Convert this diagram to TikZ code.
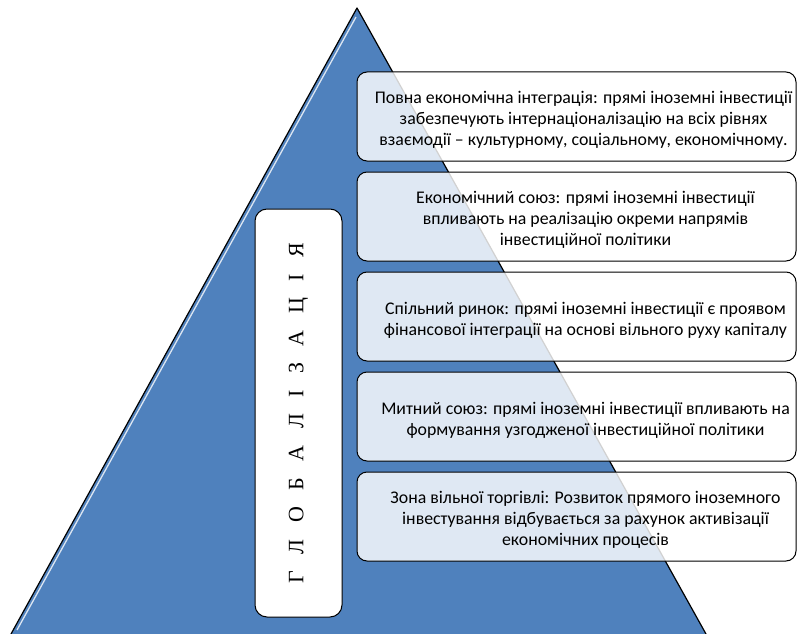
\documentclass[tikz,border=0pt]{standalone}
\usepackage{fontspec}
\setmainfont{Carlito}
\newfontfamily\titlefont{Liberation Serif}
\definecolor{pyrblue}{HTML}{4F81BD}

\tikzset{
  level box/.style={draw, line width=1pt, rounded corners=10pt, fill=white, fill opacity=0.82,
    minimum width=439pt, minimum height=89pt},
  level text/.style={align=center, font=\fontsize{17.8}{21}\selectfont},
  title box/.style={draw, line width=1pt, rounded corners=12pt, fill=white, rotate=90,
    minimum width=408pt, minimum height=87pt, font=\titlefont\fontsize{22}{22}\selectfont}
}

\begin{document}
\begin{tikzpicture}[x=1pt, y=-1pt]
  \useasboundingbox (0,0) rectangle (798,634);

  % Pyramid
  \coordinate (apex) at (357,8);
  \coordinate (baseL) at (11,634);
  \coordinate (baseR) at (706,634);
  \fill[pyrblue] (apex) -- (baseL) -- (baseR) -- cycle;
  \draw[white, line width=1.3pt, opacity=0.8] (356,17) -- (17,630);
  \draw[line width=1.2pt, line join=round] (baseL) -- (apex) -- (baseR);

  % Vertical title
  \node[title box] (glob) at (298.5,413) {\spaceskip=16.5pt Г Л О Б А Л І З А Ц І Я};

  % Level boxes
  \foreach \i in {1,...,5} {
    \node[level box] (lvl\i) at (576.5, 16.5+100*\i) {};
  }

  % Level texts
  \node[level text] (txt1) at ([xshift=7pt,yshift=-3pt]lvl1.center) {Повна економічна інтеграція: прямі іноземні інвестиції\\забезпечують інтернаціоналізацію на всіх рівнях\\взаємодії -- культурному, соціальному, економічному.};
  \node[level text] (txt2) at ([xshift=9pt,yshift=-3pt]lvl2.center) {Економічний союз: прямі іноземні інвестиції\\впливають на реалізацію окреми напрямів\\інвестиційної політики};
  \node[level text] (txt3) at ([xshift=9pt,yshift=-4pt]lvl3.center) {Спільний ринок: прямі іноземні інвестиції є проявом\\фінансової інтеграції на основі вільного руху капіталу};
  \node[level text] (txt4) at ([xshift=9pt,yshift=-4pt]lvl4.center) {Митний союз: прямі іноземні інвестиції впливають на\\формування узгодженої інвестиційної політики};
  \node[level text] (txt5) at ([xshift=9pt,yshift=-3pt]lvl5.center) {Зона вільної торгівлі: Розвиток прямого іноземного\\інвестування відбувається за рахунок активізації\\економічних процесів};
\end{tikzpicture}
\end{document}
